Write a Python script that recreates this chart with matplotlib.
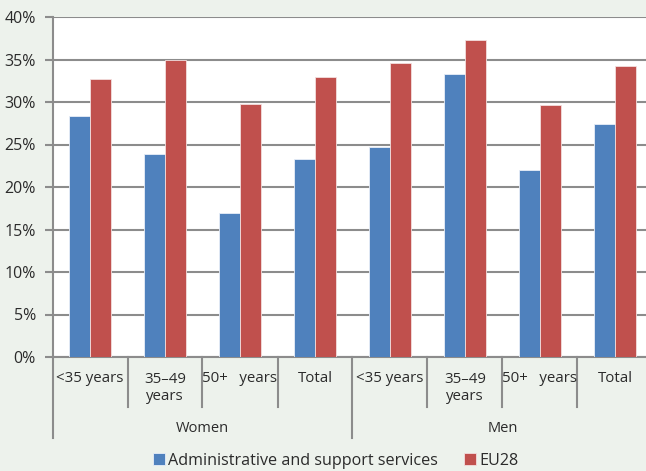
import matplotlib
matplotlib.use("Agg")
import matplotlib.pyplot as plt
import numpy as np

# Share of workers by sex and age group
groups = ["Women", "Men"]
age_labels = ["<35 years", "35\u201349\nyears", "50+   years", "Total"]
series_names = ["Administrative and support services", "EU28"]
admin_support = [28.3, 23.9, 16.9, 23.3, 24.7, 33.3, 22.0, 27.4]
eu28 = [32.7, 35.0, 29.8, 32.9, 34.6, 37.3, 29.6, 34.2]
y_ticks = [0, 5, 10, 15, 20, 25, 30, 35, 40]

BLUE = "#4f81bd"
RED = "#c0504d"
GRID = "#8c8c8c"
BG = "#edf2ec"
TXT = "#2b2b2b"

plt.rcParams["font.family"] = ["Open Sans", "DejaVu Sans"]

W, H = 646, 471
fig = plt.figure(figsize=(W / 100, H / 100), dpi=100, facecolor=BG)
left, right, top, bottom = 52.5, 652.5, 17, 357
ax = fig.add_axes([left / W, (H - bottom) / H, (right - left) / W, (bottom - top) / H])
ax.set_facecolor("white")

n = len(admin_support)
x = np.arange(n)
bw = 0.28
ax.bar(x - bw / 2, admin_support, bw, color=BLUE, edgecolor="#e8eef8", linewidth=0.6,
       label=series_names[0], zorder=3)
ax.bar(x + bw / 2, eu28, bw, color=RED, edgecolor="#f3dede", linewidth=0.6,
       label=series_names[1], zorder=3)

ax.set_xlim(-0.5, n - 0.5)
ax.set_ylim(0, 40)
ax.set_yticks(y_ticks)
ax.set_yticklabels([f"{t}%" for t in y_ticks])
ax.set_xticks([])
ax.yaxis.grid(True, color=GRID, linewidth=1.5, zorder=0)
ax.set_axisbelow(True)
ax.tick_params(axis="y", length=6, width=1.5, color=GRID, pad=6,
               labelsize=11.5, labelcolor=TXT)
for s in ["top", "right"]:
    ax.spines[s].set_visible(False)
for s in ["left", "bottom"]:
    ax.spines[s].set_color(GRID)
    ax.spines[s].set_linewidth(1.5)

tr = ax.get_xaxis_transform()
span = bottom - top

def ay(py):
    return (bottom - py) / span

# category labels
for i in range(n):
    lab = age_labels[i % len(age_labels)]
    ypix = 388 if "\n" in lab else 378
    ax.text(i, ay(ypix), lab, transform=tr, ha="center", va="center",
            fontsize=10.8, color=TXT, linespacing=1.2, clip_on=False)

# separators between categories and between groups
for b in np.arange(-0.5, n, 1.0):
    major = (b + 0.5) % len(age_labels) == 0
    y_end = ay(438) if major else ay(407)
    ax.plot([b, b], [0, y_end], transform=tr, color=GRID, linewidth=1.5, clip_on=False)

# group labels
for g, name in enumerate(groups):
    xc = g * len(age_labels) + (len(age_labels) - 1) / 2
    ax.text(xc, ay(429), name, transform=tr, ha="center", va="center",
            fontsize=10.5, color=TXT, clip_on=False)

fig.legend(loc="center", bbox_to_anchor=(0.52, (H - 461) / H), ncol=2, frameon=False,
           fontsize=11.6, handlelength=0.75, handleheight=0.75, handletextpad=0.2,
           columnspacing=1.6, labelcolor=TXT)

fig.savefig("out.png", dpi=100, facecolor=BG)
